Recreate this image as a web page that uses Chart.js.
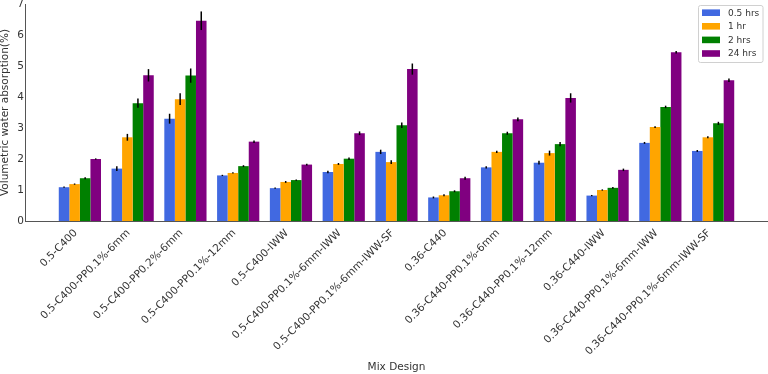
<!DOCTYPE html>
<html>
<head>
<meta charset="utf-8">
<script src="https://cdn.jsdelivr.net/npm/chart.js@4.4.0/dist/chart.umd.min.js"></script>
<style>
  html, body { margin: 0; padding: 0; background: #fff; }
  #wrap { width: 768px; height: 374px; }
</style>
</head>
<body>
<div id="wrap"><canvas id="c" width="768" height="374"></canvas></div>
<script>
const categories = ['0.5-C400','0.5-C400-PP0.1%-6mm','0.5-C400-PP0.2%-6mm','0.5-C400-PP0.1%-12mm','0.5-C400-IWW','0.5-C400-PP0.1%-6mm-IWW','0.5-C400-PP0.1%-6mm-IWW-SF','0.36-C440','0.36-C440-PP0.1%-6mm','0.36-C440-PP0.1%-12mm','0.36-C440-IWW','0.36-C440-PP0.1%-6mm-IWW','0.36-C440-PP0.1%-6mm-IWW-SF'];
const seriesLabels = ['0.5 hrs', '1 hr', '2 hrs', '24 hrs'];
const hr05 = [1.09,1.69,3.30,1.47,1.06,1.58,2.23,0.76,1.73,1.88,0.82,2.52,2.26];
const hr1  = [1.19,2.70,3.93,1.55,1.26,1.84,1.90,0.83,2.23,2.19,1.00,3.03,2.70];
const hr2  = [1.38,3.80,4.69,1.77,1.32,2.01,3.09,0.96,2.83,2.48,1.07,3.68,3.15];
const hr24 = [2.00,4.70,6.46,2.56,1.82,2.83,4.90,1.38,3.28,3.97,1.65,5.44,4.54];
const err05 = [0.02,0.08,0.16,0.02,0.02,0.04,0.07,0.03,0.04,0.06,0.02,0.03,0.03];
const err1  = [0.02,0.11,0.19,0.02,0.03,0.03,0.06,0.03,0.04,0.08,0.02,0.03,0.03];
const err2  = [0.03,0.15,0.23,0.03,0.02,0.04,0.09,0.03,0.05,0.07,0.03,0.04,0.05];
const err24 = [0.02,0.20,0.30,0.04,0.03,0.06,0.18,0.05,0.06,0.15,0.04,0.04,0.06];
const yTicks = [0,1,2,3,4,5,6,7];
const colors = ['#4169E1', '#FFA500', '#008000', '#800080'];

const values = [hr05, hr1, hr2, hr24];
const errors = [err05, err1, err2, err24];
const FONT = "'DejaVu Sans', sans-serif";

const datasets = values.map((arr, k) => ({
  label: seriesLabels[k],
  data: arr.map((v, i) => ({ x: i, y: v })),
  errs: errors[k],
  backgroundColor: colors[k],
  borderWidth: 0,
  categoryPercentage: 0.8,
  barPercentage: 1.0
}));

const errorBars = {
  id: 'errorBars',
  afterDatasetsDraw(chart) {
    const ctx = chart.ctx;
    const ys = chart.scales.y;
    ctx.save();
    ctx.strokeStyle = '#000';
    ctx.lineWidth = 1.5;
    chart.data.datasets.forEach((ds, k) => {
      const meta = chart.getDatasetMeta(k);
      meta.data.forEach((el, i) => {
        const v = ds.data[i].y, e = ds.errs[i];
        ctx.beginPath();
        ctx.moveTo(el.x, ys.getPixelForValue(v - e));
        ctx.lineTo(el.x, ys.getPixelForValue(v + e));
        ctx.stroke();
      });
    });
    ctx.restore();
  }
};

const customLegend = {
  id: 'customLegend',
  afterDraw(chart) {
    const ctx = chart.ctx;
    ctx.save();
    const bx = 698.5, by = 5.5, bw = 64.5, bh = 57;
    ctx.fillStyle = 'rgba(255,255,255,0.8)';
    ctx.strokeStyle = '#d0d0d0';
    ctx.lineWidth = 1;
    ctx.beginPath();
    ctx.roundRect(bx, by, bw, bh, 2);
    ctx.fill();
    ctx.stroke();
    ctx.font = '9px ' + FONT;
    ctx.textBaseline = 'middle';
    ctx.textAlign = 'left';
    chart.data.datasets.forEach((ds, k) => {
      const cy = 12.7 + k * 13.6;
      ctx.fillStyle = ds.backgroundColor;
      ctx.fillRect(702, cy - 3.3, 18, 6.6);
      ctx.fillStyle = '#333';
      ctx.fillText(ds.label, 728, cy + 0.5);
    });
    ctx.restore();
  }
};

new Chart(document.getElementById('c'), {
  type: 'bar',
  data: { datasets },
  plugins: [errorBars, customLegend],
  options: {
    responsive: false,
    animation: false,
    devicePixelRatio: 1,
    layout: { padding: { top: 4, right: 0, bottom: 0, left: 0 } },
    plugins: { legend: { display: false }, tooltip: { enabled: false } },
    scales: {
      x: {
        type: 'linear',
        min: -1.04,
        max: 13.04,
        offset: false,
        afterBuildTicks(scale) { scale.ticks = categories.map((_, i) => ({ value: i })); },
        afterFit(scale) { scale.height = 153; scale.paddingLeft = 0; scale.paddingRight = 0; },
        ticks: {
          autoSkip: false,
          maxRotation: 45,
          minRotation: 45,
          padding: 6,
          labelOffset: -4,
          color: '#333',
          font: { family: FONT, size: 10.5 },
          callback: (v) => categories[v] !== undefined ? categories[v] : ''
        },
        grid: { display: false, drawTicks: false },
        border: { display: true, color: '#555', width: 1 },
        title: {
          display: true,
          text: 'Mix Design',
          color: '#333',
          font: { family: FONT, size: 10.5, lineHeight: 1.2 },
          padding: { top: 0, bottom: 0 }
        }
      },
      y: {
        min: 0,
        max: 7,
        afterBuildTicks(scale) { scale.ticks = yTicks.map(v => ({ value: v })); },
        afterFit(scale) { scale.width = 25; scale.paddingTop = 0; scale.paddingBottom = 0; },
        ticks: {
          padding: 1,
          color: '#333',
          font: { family: FONT, size: 10.5 }
        },
        grid: { display: false, drawTicks: false },
        border: { display: true, color: '#555', width: 1 },
        title: {
          display: true,
          text: 'Volumetric water absorption(%)',
          color: '#333',
          font: { family: FONT, size: 10.5, lineHeight: 1 },
          padding: 0
        }
      }
    }
  }
});
</script>
</body>
</html>
